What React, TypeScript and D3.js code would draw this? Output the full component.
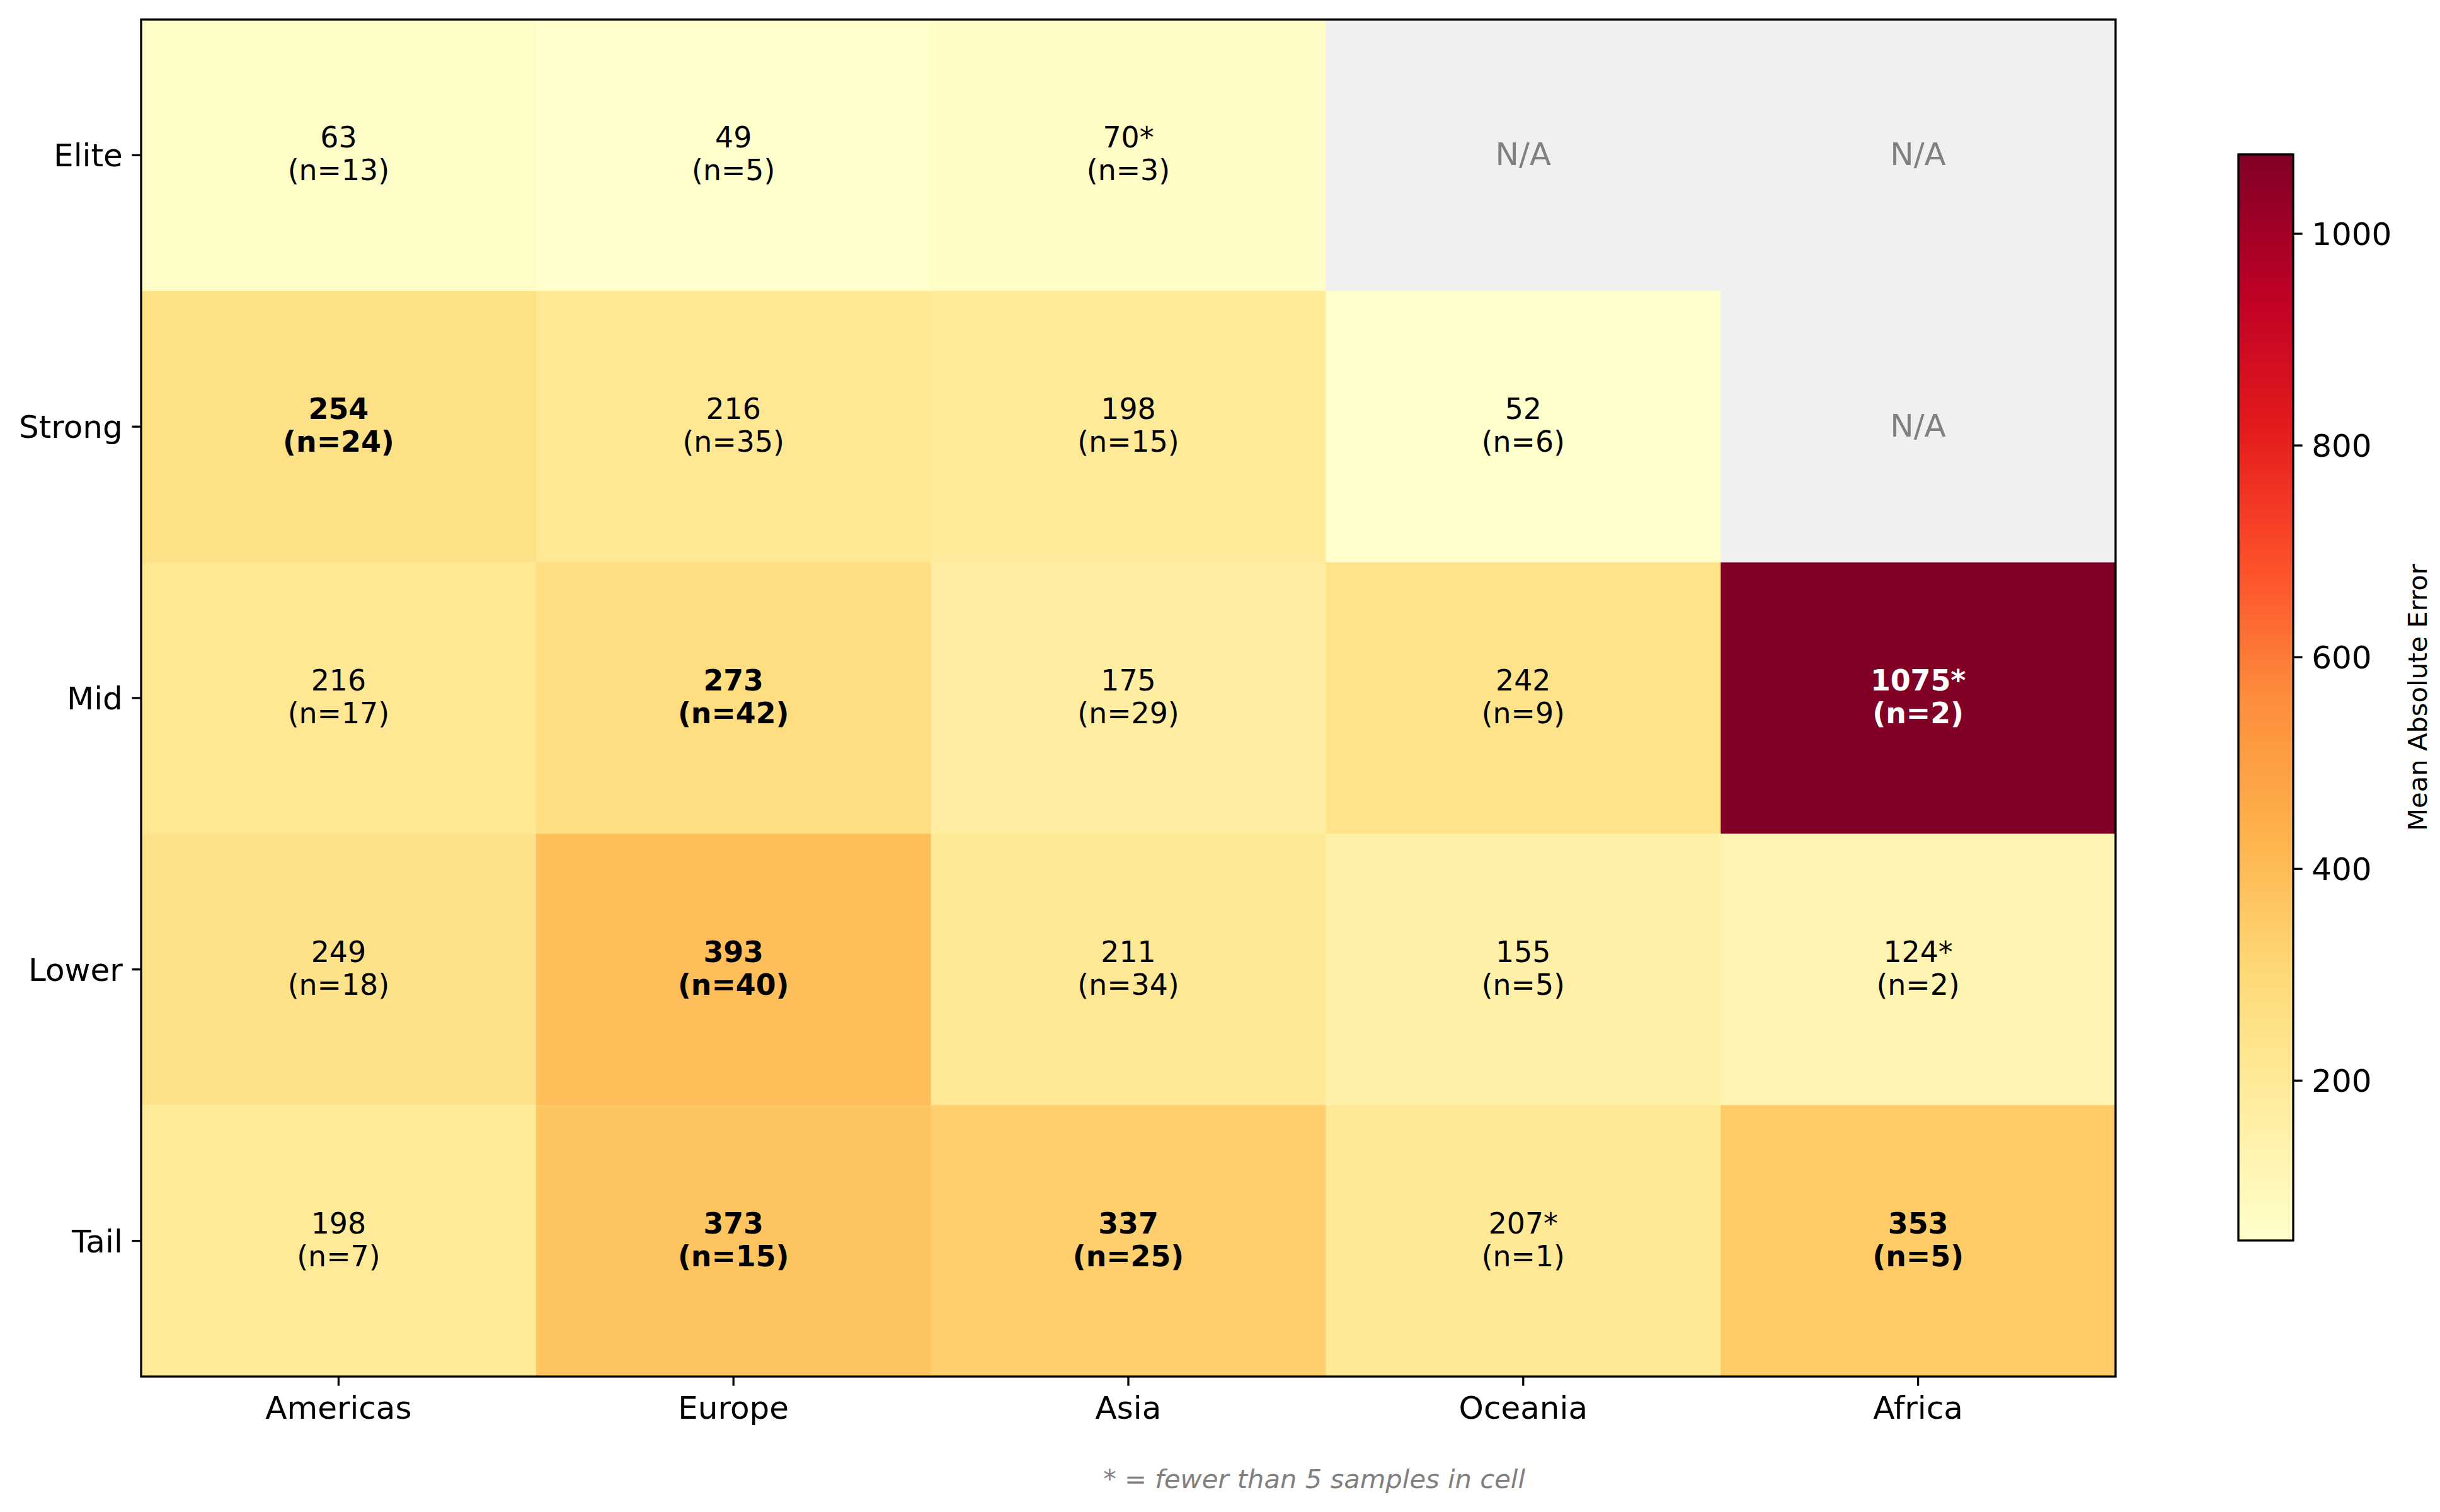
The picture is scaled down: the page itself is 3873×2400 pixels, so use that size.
import React from "react";
import * as d3 from "d3";

const rows = ["Elite", "Strong", "Mid", "Lower", "Tail"];
const cols = ["Americas", "Europe", "Asia", "Oceania", "Africa"];
const NA = NaN;
const eliteMAE = [63, 49, 70, NA, NA];
const strongMAE = [254, 216, 198, 52, NA];
const midMAE = [216, 273, 175, 242, 1075];
const lowerMAE = [249, 393, 211, 155, 124];
const tailMAE = [198, 373, 337, 207, 353];
const eliteN = [13, 5, 3, 0, 0];
const strongN = [24, 35, 15, 6, 0];
const midN = [17, 42, 29, 9, 2];
const lowerN = [18, 40, 34, 5, 2];
const tailN = [7, 15, 25, 1, 5];
const colorbarTicks = [200, 400, 600, 800, 1000];
const ylOrRd = ["#ffffcc", "#ffeda0", "#fed976", "#feb24c", "#fd8d3c", "#fc4e2a", "#e31a1c", "#bd0026", "#800026"];
const cbarLabel = "Mean Absolute Error";
const footnote = "* = fewer than 5 samples in cell";

const maeRows = [eliteMAE, strongMAE, midMAE, lowerMAE, tailMAE];
const nRows = [eliteN, strongN, midN, lowerN, tailN];

const W = 3873, H = 2400;
const plot = { left: 224, right: 3358, top: 31, bottom: 2185 };
const cbar = { left: 3553, right: 3640, top: 245, bottom: 1969 };
const FONT = "DejaVu Sans, sans-serif";
const tickLen = 14.6;
const lw = 3.3;
const cellFont = 45.8;

export default function App() {
  const all = maeRows.flat().filter((v) => !isNaN(v));
  const vmin = d3.min(all) as number;
  const vmax = d3.max(all) as number;
  const x = d3.scaleBand<string>().domain(cols).range([plot.left, plot.right]).padding(0);
  const y = d3.scaleBand<string>().domain(rows).range([plot.top, plot.bottom]).padding(0);
  const norm = d3.scaleLinear().domain([vmin, vmax]).range([0, 1]).clamp(true);
  const cmapStops = d3.scaleLinear<string>()
    .domain(ylOrRd.map((_, i) => i / (ylOrRd.length - 1)))
    .range(ylOrRd)
    .interpolate(d3.interpolateRgb);
  const color = (v: number) => cmapStops(norm(v));
  const cy = d3.scaleLinear().domain([vmin, vmax]).range([cbar.bottom, cbar.top]);

  const cells: React.ReactNode[] = [];
  const labels: React.ReactNode[] = [];
  rows.forEach((r, i) => {
    cols.forEach((c, j) => {
      const v = maeRows[i][j];
      const n = nRows[i][j];
      const x0 = x(c)!, y0 = y(r)!;
      const bw = x.bandwidth(), bh = y.bandwidth();
      const na = isNaN(v);
      cells.push(
        <rect key={`c${i}-${j}`} x={x0} y={y0} width={bw + 0.5} height={bh + 0.5}
          fill={na ? "#f0f0f0" : color(v)} />
      );
      const cx = x0 + bw / 2, cyy = y0 + bh / 2;
      if (na) {
        labels.push(
          <text key={`t${i}-${j}`} x={cx} y={cyy + 16} textAnchor="middle" fontSize={50}
            fill="#808080" fontFamily={FONT}>N/A</text>
        );
      } else {
        const bold = v >= 250;
        const fill = v > 700 ? "#ffffff" : "#000000";
        const star = n < 5 ? "*" : "";
        labels.push(
          <g key={`t${i}-${j}`} fontFamily={FONT} fontSize={cellFont} fontWeight={bold ? "bold" : "normal"} fill={fill} textAnchor="middle">
            <text x={cx} y={cyy - 12}>{`${Math.round(v)}${star}`}</text>
            <text x={cx} y={cyy + 40}>{`(n=${n})`}</text>
          </g>
        );
      }
    });
  });

  const gradStops = d3.range(ylOrRd.length).map((i) => (
    <stop key={i} offset={`${(i / (ylOrRd.length - 1)) * 100}%`} stopColor={ylOrRd[i]} />
  ));

  return (
    <svg width={W} height={H} viewBox={`0 0 ${W} ${H}`} style={{ position: "absolute", left: 0, top: 0, background: "#fff" }}>
      <defs>
        <linearGradient id="cbarGrad" x1="0" y1="1" x2="0" y2="0">{gradStops}</linearGradient>
      </defs>
      <rect x={0} y={0} width={W} height={H} fill="#ffffff" />
      {cells}
      {labels}
      <rect x={plot.left} y={plot.top} width={plot.right - plot.left} height={plot.bottom - plot.top}
        fill="none" stroke="#000" strokeWidth={lw} />
      {cols.map((c) => {
        const cx = x(c)! + x.bandwidth() / 2;
        return (
          <g key={c}>
            <line x1={cx} x2={cx} y1={plot.bottom} y2={plot.bottom + tickLen} stroke="#000" strokeWidth={lw} />
            <text x={cx} y={plot.bottom + 2 * tickLen + 38} textAnchor="middle" fontSize={50} fontFamily={FONT} fill="#000">{c}</text>
          </g>
        );
      })}
      {rows.map((r) => {
        const ry = y(r)! + y.bandwidth() / 2;
        return (
          <g key={r}>
            <line x1={plot.left - tickLen} x2={plot.left} y1={ry} y2={ry} stroke="#000" strokeWidth={lw} />
            <text x={plot.left - 2 * tickLen} y={ry + 18} textAnchor="end" fontSize={50} fontFamily={FONT} fill="#000">{r}</text>
          </g>
        );
      })}
      <rect x={cbar.left} y={cbar.top} width={cbar.right - cbar.left} height={cbar.bottom - cbar.top} fill="url(#cbarGrad)" />
      <rect x={cbar.left} y={cbar.top} width={cbar.right - cbar.left} height={cbar.bottom - cbar.top} fill="none" stroke="#000" strokeWidth={lw} />
      {colorbarTicks.map((t) => (
        <g key={t}>
          <line x1={cbar.right} x2={cbar.right + tickLen} y1={cy(t)} y2={cy(t)} stroke="#000" strokeWidth={lw} />
          <text x={cbar.right + 2 * tickLen} y={cy(t) + 18} fontSize={50} fontFamily={FONT} fill="#000">{t}</text>
        </g>
      ))}
      <text transform={`translate(3852, ${(cbar.top + cbar.bottom) / 2}) rotate(-90)`} textAnchor="middle"
        fontSize={41.7} fontFamily={FONT} fill="#000">{cbarLabel}</text>
      <text x={2086} y={2362} textAnchor="middle" fontSize={41.7} fontFamily={FONT} fontStyle="italic" fill="#808080">{footnote}</text>
    </svg>
  );
}
